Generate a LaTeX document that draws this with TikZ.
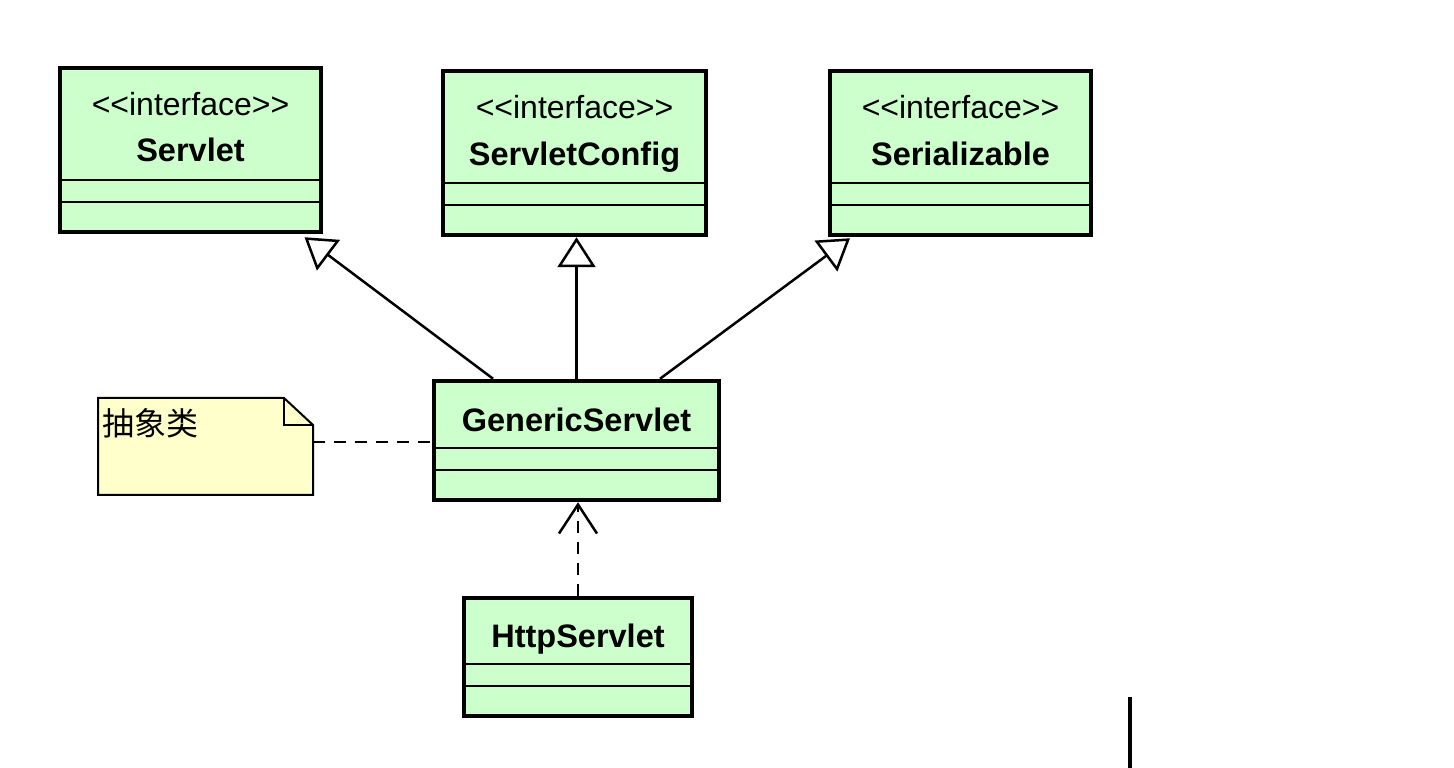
\documentclass[tikz,border=0pt]{standalone}
\usepackage{fontspec}
\setmainfont{Liberation Sans}
\newfontfamily\cjk{Noto Sans CJK SC}
\usetikzlibrary{arrows.meta,positioning}
\definecolor{classgreen}{HTML}{CCFFCC}
\definecolor{notefill}{HTML}{FFFFCC}
\newcommand{\stereotext}{{<}{<}interface{>}{>}}
\tikzset{
    x=1pt, y=1pt, % one unit is one pixel of the drawing
    umlclass/.style={draw, line width=4.5pt, fill=classgreen, inner sep=0pt}, % class boxes
    compline/.style={line width=2.5pt}, % lines between the compartments
    stereo/.style={anchor=base, font=\fontsize{32}{38}\selectfont},
    cname/.style={anchor=base, font=\fontsize{32.5}{38}\selectfont\bfseries},
    inherit/.style={line width=2.5pt, -{Triangle[open, length=30pt, width=38pt]}},
    depend/.style={line width=2.5pt, dash pattern=on 12pt off 9pt, -{Straight Barb[length=29pt, width=38pt]}},
}
\begin{document}
\begin{tikzpicture}
  \useasboundingbox (0,0) rectangle (1454,768);

  % the interfaces
  \node[umlclass, minimum width=261, minimum height=164] (servlet) at (190.5,618) {};
  \node[umlclass, minimum width=263, minimum height=164] (config)  at (574.5,615) {};
  \node[umlclass, minimum width=261, minimum height=164] (serial)  at (960.5,615) {};
  % the classes
  \node[umlclass, minimum width=285, minimum height=119] (generic) at (576.5,327.5) {};
  \node[umlclass, minimum width=228, minimum height=118] (http)    at (578,111) {};

  \foreach \c in {servlet,config,serial,generic,http}{
    \draw[compline] ([yshift=32pt]\c.south west) -- ([yshift=32pt]\c.south east);
    \draw[compline] ([yshift=54pt]\c.south west) -- ([yshift=54pt]\c.south east);
  }

  \node[stereo] (servletst) at (190.5,652) {\stereotext};
  \node[cname]  (servletnm) at (190.5,606) {Servlet};
  \node[stereo] (configst)  at (574.5,649) {\stereotext};
  \node[cname]  (confignm)  at (574.5,602) {ServletConfig};
  \node[stereo] (serialst)  at (960.5,649) {\stereotext};
  \node[cname]  (serialnm)  at (960.5,602) {Serializable};
  \node[cname]  (genericnm) at (576.5,336) {GenericServlet};
  \node[cname]  (httpnm)    at (578,120)   {HttpServlet};

  % note with folded corner
  \node[minimum width=215, minimum height=97, outer sep=0pt] (note) at (205.5,321.5) {};
  \draw[line width=2pt, fill=notefill]
    (note.north west) -- ([xshift=-29pt]note.north east) -- ([yshift=-27pt]note.north east)
    -- (note.south east) -- (note.south west) -- cycle;
  \draw[line width=2pt]
    ([xshift=-29pt]note.north east) -- ([xshift=-29pt,yshift=-27pt]note.north east)
    -- ([yshift=-27pt]note.north east);
  \node[anchor=base west, inner sep=0pt, font=\fontsize{32}{38}\cjk] (notetext) at (102,332) {抽象类};

  \path[inherit]
    ([xshift=-83.5pt]generic.north) edge ([xshift=114pt,yshift=-3pt]servlet.south)
    (generic.north) edge (generic.north |- config.south)
    ([xshift=83.5pt]generic.north) edge ([xshift=-110.5pt,yshift=-1pt]serial.south);
  \path[depend] (http.north) edge (http.north |- generic.south);
  \draw[line width=2pt, dash pattern=on 12pt off 9pt] ([yshift=-2pt]note.east |- generic.west) -- ([yshift=-2pt]generic.west);

  \draw[line width=4pt] (1130,71) -- (1130,0);
\end{tikzpicture}
\end{document}
